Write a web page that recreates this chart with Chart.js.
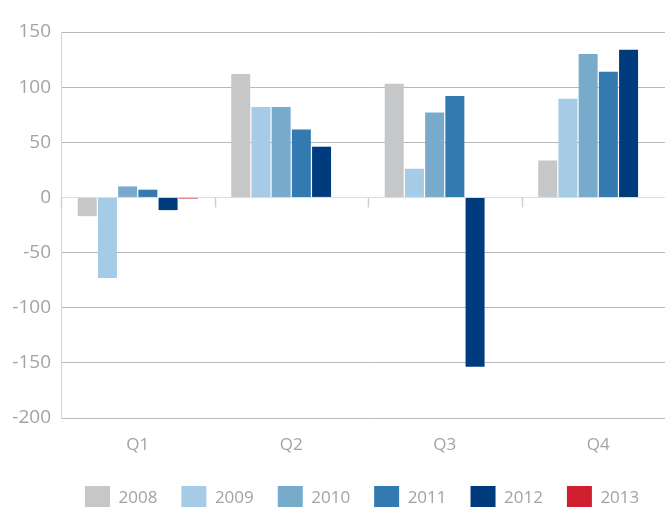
<!DOCTYPE html>
<html>
<head>
<meta charset="utf-8">
<script src="https://cdn.jsdelivr.net/npm/chart.js@4.4.1/dist/chart.umd.min.js"></script>
<style>
  html, body { margin: 0; padding: 0; overflow: hidden; background: #fff; }
  #wrap { width: 665px; height: 507px; overflow: hidden; }
</style>
</head>
<body>
<div id="wrap"><canvas id="chart" width="675" height="521"></canvas></div>
<script>
// --- data ---
const quarters = ["Q1", "Q2", "Q3", "Q4"];
const years = ["2008", "2009", "2010", "2011", "2012", "2013"];
const colors = ["#c6c7c9", "#a5cbe6", "#78abcb", "#337ab0", "#003c7d", "#d01f30"];

const v2008 = [-17, 112, 103, 33.5];
const v2009 = [-73, 82, 26, 89.5];
const v2010 = [10, 82, 77, 130];
const v2011 = [7, 61.5, 92, 114];
const v2012 = [-11.5, 46, -153.5, 134];
const v2013 = [-1, null, null, null];

const yTicks = [150, 100, 50, 0, -50, -100, -150, -200];

const series = [v2008, v2009, v2010, v2011, v2012, v2013];

const grey = "#a3a3a3";
const font = "'Open Sans', 'Liberation Sans', sans-serif";

// small marks under the zero line between quarters
const quarterTicks = {
  id: "quarterTicks",
  beforeDatasetsDraw(chart) {
    const { ctx, scales: { x, y } } = chart;
    const y0 = y.getPixelForValue(0);
    ctx.save();
    ctx.strokeStyle = "#d2d2d2";
    ctx.lineWidth = 1.5;
    for (let i = 0; i <= quarters.length; i++) {
      const px = Math.round(x.getPixelForValue(i - 0.5)) + 0.5;
      ctx.beginPath();
      ctx.moveTo(px, y0);
      ctx.lineTo(px, y0 + 10);
      ctx.stroke();
    }
    ctx.restore();
  }
};

new Chart(document.getElementById("chart"), {
  type: "bar",
  data: {
    labels: quarters,
    datasets: years.map((yr, i) => ({
      label: yr,
      data: series[i],
      backgroundColor: colors[i],
      borderWidth: 0,
      categoryPercentage: 0.79,
      barPercentage: 0.94
    }))
  },
  options: {
    responsive: false,
    devicePixelRatio: 1,
    animation: false,
    layout: { padding: { top: 32, left: 0, right: 0, bottom: 0 } },
    plugins: {
      tooltip: { enabled: false },
      legend: {
        position: "bottom",
        fullSize: false,
        align: "start",
        labels: {
          boxWidth: 25,
          boxHeight: 25,
          padding: 24,
          color: grey,
          font: { family: font, size: 17 }
        }
      }
    },
    scales: {
      x: {
        grid: { display: false, drawTicks: false },
        border: { display: false },
        ticks: { color: grey, padding: 17, font: { family: font, size: 17 } },
        afterFit: s => { s.height = 44; }
      },
      y: {
        min: -200,
        max: 150,
        afterBuildTicks: s => { s.ticks = yTicks.map(v => ({ value: v })); },
        grid: {
          drawTicks: false,
          color: c => (c.tick && c.tick.value === 0 ? "#dcdcdc" : "#b8b8b8")
        },
        border: { display: true, color: "#d4d4d4" },
        ticks: { color: grey, padding: 10, font: { family: font, size: 19 } },
        afterFit: s => { s.width = 61; }
      }
    }
  },
  plugins: [quarterTicks]
});
</script>
</body>
</html>
